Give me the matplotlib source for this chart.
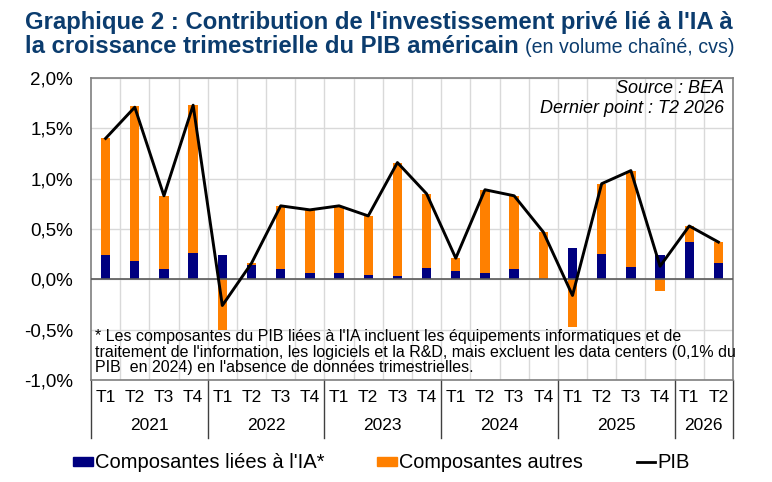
import numpy as np
import matplotlib
matplotlib.use("Agg")
import matplotlib.pyplot as plt
import matplotlib.transforms as mtransforms
from matplotlib.patches import Rectangle
from matplotlib.lines import Line2D

# ---------------- data ----------------
quarters = ["T1", "T2", "T3", "T4"] * 5 + ["T1", "T2"]
years = ["2021", "2022", "2023", "2024", "2025", "2026"]
year_counts = [4, 4, 4, 4, 4, 2]
ia = [0.24, 0.18, 0.10, 0.26, 0.24, 0.14, 0.10, 0.06, 0.06, 0.04, 0.03,
      0.11, 0.08, 0.06, 0.10, 0.00, 0.31, 0.25, 0.12, 0.24, 0.37, 0.16]
autres = [1.16, 1.54, 0.73, 1.47, -0.50, 0.02, 0.63, 0.63, 0.67, 0.59, 1.13,
          0.74, 0.13, 0.83, 0.73, 0.47, -0.47, 0.70, 0.96, -0.12, 0.16, 0.21]
pib = [1.40, 1.71, 0.83, 1.73, -0.26, 0.16, 0.73, 0.69, 0.73, 0.63, 1.16,
       0.85, 0.21, 0.89, 0.83, 0.47, -0.16, 0.95, 1.08, 0.13, 0.53, 0.37]
yticks = [-1.0, -0.5, 0.0, 0.5, 1.0, 1.5, 2.0]
ytick_labels = ["-1,0%", "-0,5%", "0,0%", "0,5%", "1,0%", "1,5%", "2,0%"]

NAVY = "#000080"
ORANGE = "#FF8000"
TITLE_C = "#0B3C6E"
plt.rcParams["font.family"] = ["Liberation Sans", "DejaVu Sans"]

W, H = 772, 482
fig = plt.figure(figsize=(W / 100, H / 100), dpi=100)
ax = fig.add_axes([91 / W, 1 - 380 / H, (733 - 91) / W, (380 - 78) / H])

n = len(pib)
x = np.arange(n)
ia_a = np.array(ia)
au_a = np.array(autres)
bottom_au = np.where(au_a >= 0, ia_a, 0)

ax.set_xlim(-0.5, n - 0.5)
ax.set_ylim(-1.0, 2.0)
ax.set_yticks(yticks)
ax.set_yticklabels(ytick_labels, fontsize=13.5)
ax.set_xticks([])
ax.tick_params(axis="y", length=0, pad=13)

# grid
for yv in yticks:
    ax.axhline(yv, color="#D9D9D9", lw=1, zorder=0)
for xv in np.arange(0.5, n - 0.5, 1):
    ax.axvline(xv, color="#D9D9D9", lw=1, zorder=0)

ax.bar(x, ia_a, width=0.32, color=NAVY, zorder=2)
ax.bar(x, au_a, width=0.32, bottom=bottom_au, color=ORANGE, zorder=2)
ax.axhline(0, color="#595959", lw=1.2, zorder=3)
ax.plot(x, pib, color="black", lw=2.1, zorder=4)

for s in ax.spines.values():
    s.set_color("#7F7F7F")
    s.set_linewidth(1.2)

# source
fig.text(724 / W, 1 - 80 / H, "Source : BEA\nDernier point : T2 2026",
         ha="right", va="top", fontsize=13, style="italic", linespacing=1.25)

# footnote
fig.text(95 / W, 1 - 329 / H,
         "* Les composantes du PIB liées à l'IA incluent les équipements informatiques et de\n"
         "traitement de l'information, les logiciels et la R&D, mais excluent les data centers (0,1% du\n"
         "PIB  en 2024) en l'absence de données trimestrielles.",
         ha="left", va="top", fontsize=11.5, linespacing=1.06)

# multi-level x axis
bt = mtransforms.blended_transform_factory(ax.transData, fig.transFigure)
for xi, q in zip(x, quarters):
    ax.text(xi, 1 - 398 / H, q, transform=bt, ha="center", va="center", fontsize=12.5)
start = 0
seps = [-0.5]
for yr, c in zip(years, year_counts):
    ax.text(start + (c - 1) / 2, 1 - 426 / H, yr, transform=bt, ha="center",
            va="center", fontsize=12.5)
    start += c
    seps.append(start - 0.5)
for sx in seps:
    ax.add_line(Line2D([sx, sx], [1 - 380 / H, 1 - 438 / H], transform=bt,
                       color="#404040", lw=1, clip_on=False))

# title
t1 = fig.text(25 / W, 1 - 29 / H,
              "Graphique 2 : Contribution de l'investissement privé lié à l'IA à",
              ha="left", va="baseline", fontsize=17.2, fontweight="bold", color=TITLE_C)
t2 = fig.text(25 / W, 1 - 53 / H, "la croissance trimestrielle du PIB américain",
              ha="left", va="baseline", fontsize=17.2, fontweight="bold", color=TITLE_C)
fig.canvas.draw()
bb = t2.get_window_extent()
fig.text((bb.x1 + 6) / W, 1 - 53 / H, "(en volume chaîné, cvs)", ha="left",
         va="baseline", fontsize=14.1, color=TITLE_C)

# legend
leg_y = 462
fig.add_artist(Rectangle((73 / W, 1 - (leg_y + 4) / H), 20 / W, 9 / H,
                         transform=fig.transFigure, color=NAVY))
fig.text(95 / W, 1 - leg_y / H, "Composantes liées à l'IA*", ha="left", va="center", fontsize=14.5)
fig.add_artist(Rectangle((377 / W, 1 - (leg_y + 4) / H), 20 / W, 9 / H,
                         transform=fig.transFigure, color=ORANGE))
fig.text(399 / W, 1 - leg_y / H, "Composantes autres", ha="left", va="center", fontsize=14.3)
fig.add_artist(Line2D([637 / W, 655 / W], [1 - leg_y / H, 1 - leg_y / H],
                      transform=fig.transFigure, color="black", lw=2))
fig.text(657 / W, 1 - leg_y / H, "PIB", ha="left", va="center", fontsize=14.5)

fig.savefig("out.png", dpi=100)
